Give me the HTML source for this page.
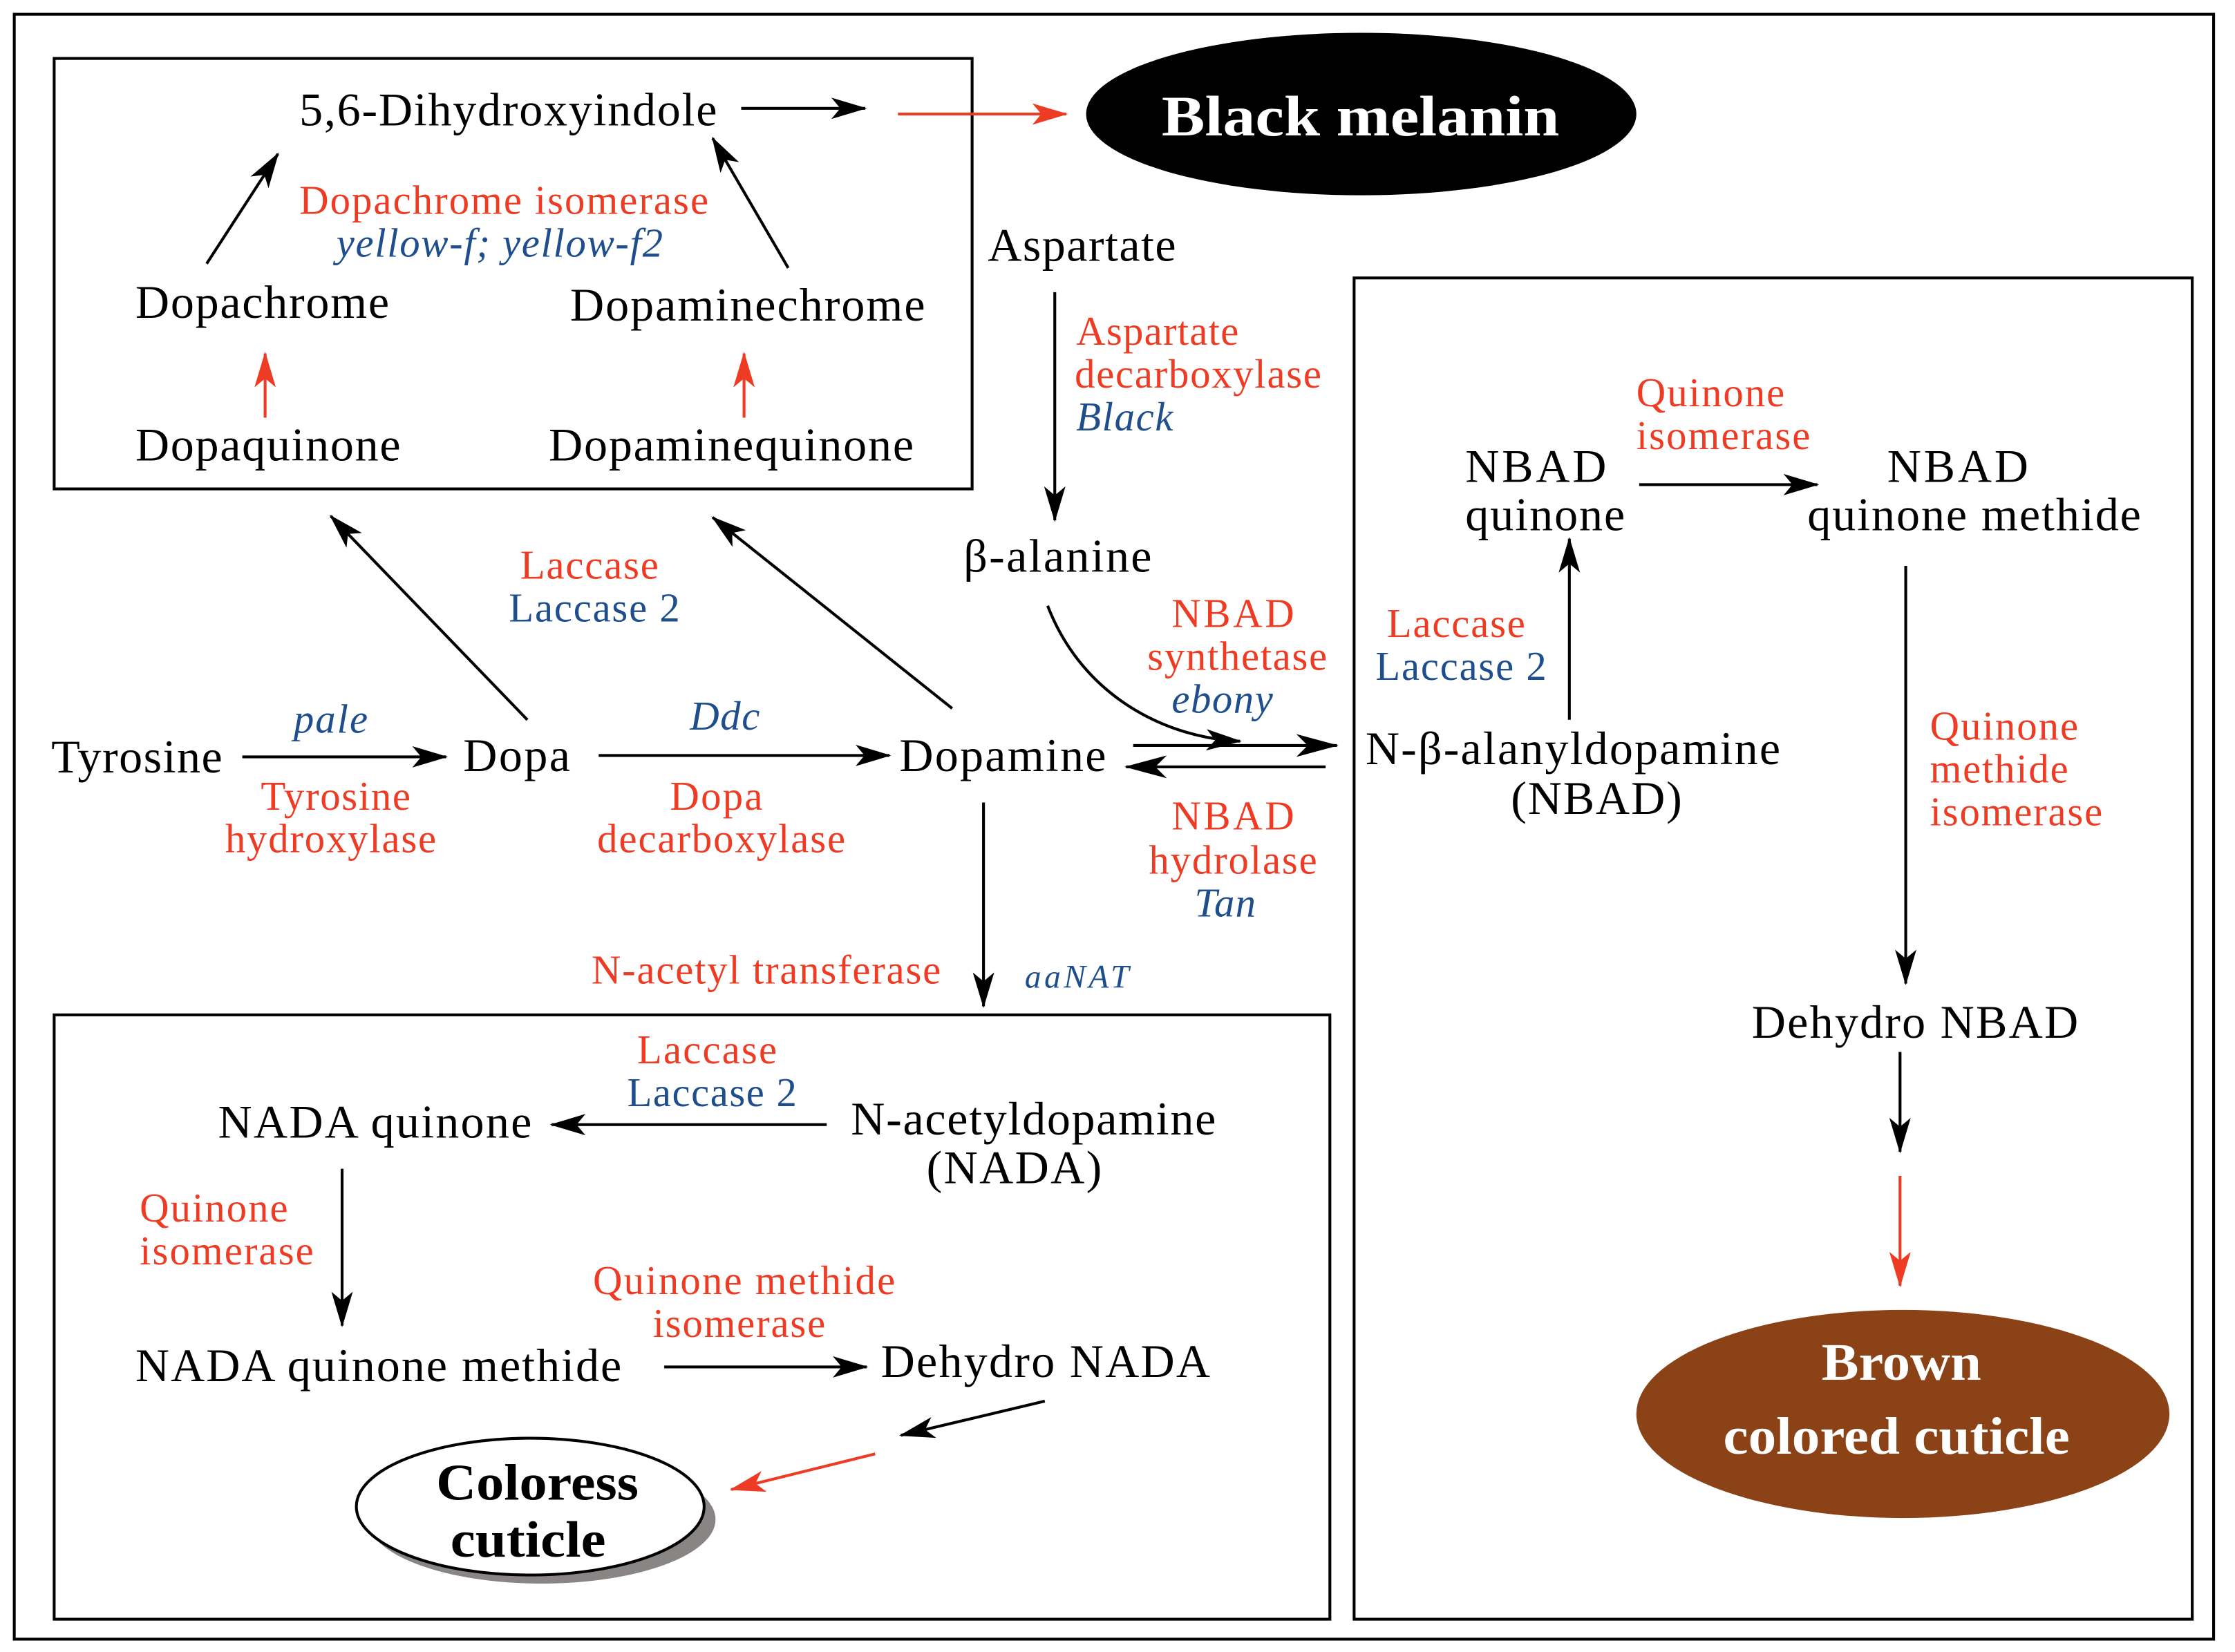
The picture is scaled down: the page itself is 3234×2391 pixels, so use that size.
<!DOCTYPE html>
<html><head><meta charset="utf-8"><style>html,body{margin:0;padding:0;background:#fff}svg{display:block}</style></head>
<body>
<svg width="3234" height="2391" viewBox="0 0 1568 1159" preserveAspectRatio="none" xmlns="http://www.w3.org/2000/svg" font-family="'Liberation Serif', serif">
<defs>
<marker id="ab" viewBox="0 0 20 12" refX="19" refY="6" markerWidth="26" markerHeight="15" markerUnits="userSpaceOnUse" orient="auto"><path d="M0,0 L20,6 L0,12 L5,6 Z" fill="#000"/></marker>
<marker id="ar" viewBox="0 0 20 12" refX="19" refY="6" markerWidth="26" markerHeight="15" markerUnits="userSpaceOnUse" orient="auto"><path d="M0,0 L20,6 L0,12 L5,6 Z" fill="#ee3b24"/></marker>
<marker id="abL" viewBox="0 0 26 14" refX="25" refY="7" markerWidth="30" markerHeight="16" markerUnits="userSpaceOnUse" orient="auto"><path d="M0,0 L26,7 L0,14 L7,7 Z" fill="#000"/></marker>
</defs>
<rect x="10" y="10" width="1543" height="1140" fill="none" stroke="#000" stroke-width="2"/>
<rect x="38" y="41" width="644" height="302" fill="none" stroke="#000" stroke-width="2"/>
<rect x="38" y="712" width="895" height="424" fill="none" stroke="#000" stroke-width="2"/>
<rect x="950" y="195" width="588" height="941" fill="none" stroke="#000" stroke-width="2"/>

<g stroke="#000" stroke-width="2" fill="none">
<line x1="520" y1="76" x2="607" y2="76" marker-end="url(#ab)"/>
<line x1="145" y1="185" x2="195" y2="108" marker-end="url(#ab)"/>
<line x1="553" y1="188" x2="500" y2="97" marker-end="url(#ab)"/>
<line x1="740" y1="205" x2="740" y2="365" marker-end="url(#ab)"/>
<path d="M735,425 C760,490 820,518 870,520" marker-end="url(#ab)"/>
<line x1="370" y1="505" x2="232" y2="362" marker-end="url(#ab)"/>
<line x1="668" y1="497" x2="500" y2="363" marker-end="url(#ab)"/>
<line x1="170" y1="531" x2="313" y2="531" marker-end="url(#ab)"/>
<line x1="420" y1="530" x2="624" y2="530" marker-end="url(#ab)"/>
<line x1="795" y1="523" x2="938" y2="523" marker-end="url(#abL)"/>
<line x1="930" y1="538" x2="790" y2="538" marker-end="url(#abL)"/>
<line x1="1101" y1="505" x2="1101" y2="378" marker-end="url(#ab)"/>
<line x1="1150" y1="340" x2="1275" y2="340" marker-end="url(#ab)"/>
<line x1="1337" y1="397" x2="1337" y2="690" marker-end="url(#ab)"/>
<line x1="1333" y1="738" x2="1333" y2="808" marker-end="url(#ab)"/>
<line x1="690" y1="563" x2="690" y2="706" marker-end="url(#ab)"/>
<line x1="580" y1="789" x2="387" y2="789" marker-end="url(#ab)"/>
<line x1="240" y1="820" x2="240" y2="930" marker-end="url(#ab)"/>
<line x1="466" y1="959" x2="608" y2="959" marker-end="url(#ab)"/>
<line x1="733" y1="983" x2="632" y2="1007" marker-end="url(#ab)"/>
</g>
<g stroke="#ee3b24" stroke-width="2" fill="none">
<line x1="630" y1="80" x2="748" y2="80" marker-end="url(#ar)"/>
<line x1="186" y1="293" x2="186" y2="248" marker-end="url(#ar)"/>
<line x1="522" y1="293" x2="522" y2="248" marker-end="url(#ar)"/>
<line x1="1333" y1="825" x2="1333" y2="902" marker-end="url(#ar)"/>
<line x1="614" y1="1020" x2="513" y2="1045" marker-end="url(#ar)"/>
</g>

<ellipse cx="955" cy="80" rx="193" ry="57" fill="#000"/>
<text x="815" y="95" fill="#fff" font-size="40" font-weight="bold" textLength="279" lengthAdjust="spacingAndGlyphs">Black melanin</text>
<ellipse cx="1335" cy="992" rx="187" ry="73" fill="#8a4216"/>
<text x="1278" y="968" fill="#fff" font-size="37" font-weight="bold" textLength="112" lengthAdjust="spacingAndGlyphs">Brown</text>
<text x="1209" y="1020" fill="#fff" font-size="37" font-weight="bold" textLength="243" lengthAdjust="spacingAndGlyphs">colored cuticle</text>
<ellipse cx="380" cy="1066" rx="122" ry="45" fill="#8a8585"/>
<ellipse cx="372" cy="1057" rx="122" ry="48" fill="#fff" stroke="#000" stroke-width="2"/>
<text x="306" y="1052" font-size="36" font-weight="bold" textLength="142" lengthAdjust="spacingAndGlyphs">Coloress</text>
<text x="316" y="1092" font-size="36" font-weight="bold" textLength="109" lengthAdjust="spacingAndGlyphs">cuticle</text>

<g font-size="33" fill="#000" lengthAdjust="spacingAndGlyphs">
<text x="210" y="88" textLength="293">5,6-Dihydroxyindole</text>
<text x="95" y="223" textLength="178">Dopachrome</text>
<text x="400" y="225" textLength="249">Dopaminechrome</text>
<text x="95" y="323" textLength="186">Dopaquinone</text>
<text x="385" y="323" textLength="256">Dopaminequinone</text>
<text x="693" y="183" textLength="132">Aspartate</text>
<text x="676" y="401" textLength="132">β-alanine</text>
<text x="36" y="542" textLength="120">Tyrosine</text>
<text x="325" y="541" textLength="75">Dopa</text>
<text x="631" y="541" textLength="145">Dopamine</text>
<text x="958" y="536" textLength="291">N-β-alanyldopamine</text>
<text x="1060" y="571" textLength="120">(NBAD)</text>
<text x="1028" y="338" textLength="99">NBAD</text>
<text x="1028" y="372" textLength="112">quinone</text>
<text x="1324" y="338" textLength="99">NBAD</text>
<text x="1268" y="372" textLength="234">quinone methide</text>
<text x="1229" y="728" textLength="229">Dehydro NBAD</text>
<text x="153" y="798" textLength="220">NADA quinone</text>
<text x="597" y="796" textLength="256">N-acetyldopamine</text>
<text x="650" y="830" textLength="123">(NADA)</text>
<text x="95" y="969" textLength="341">NADA quinone methide</text>
<text x="618" y="966" textLength="231">Dehydro NADA</text>
</g>
<g font-size="28.5" fill="#ee3b24" lengthAdjust="spacingAndGlyphs">
<text x="210" y="150" textLength="287">Dopachrome isomerase</text>
<text x="755" y="242" textLength="114">Aspartate</text>
<text x="754" y="272" textLength="173">decarboxylase</text>
<text x="822" y="440" textLength="86">NBAD</text>
<text x="805" y="470" textLength="126">synthetase</text>
<text x="365" y="406" textLength="97">Laccase</text>
<text x="183" y="568" textLength="105">Tyrosine</text>
<text x="158" y="598" textLength="148">hydroxylase</text>
<text x="470" y="568" textLength="65">Dopa</text>
<text x="419" y="598" textLength="174">decarboxylase</text>
<text x="822" y="582" textLength="86">NBAD</text>
<text x="806" y="613" textLength="118">hydrolase</text>
<text x="973" y="447" textLength="97">Laccase</text>
<text x="1148" y="285" textLength="104">Quinone</text>
<text x="1148" y="315" textLength="122">isomerase</text>
<text x="1354" y="519" textLength="104">Quinone</text>
<text x="1354" y="549" textLength="97">methide</text>
<text x="1354" y="579" textLength="121">isomerase</text>
<text x="415" y="690" textLength="245">N-acetyl transferase</text>
<text x="447" y="746" textLength="98">Laccase</text>
<text x="98" y="857" textLength="104">Quinone</text>
<text x="98" y="887" textLength="122">isomerase</text>
<text x="416" y="908" textLength="212">Quinone methide</text>
<text x="458" y="938" textLength="121">isomerase</text>
</g>
<g font-size="28.5" fill="#1f4e8c" lengthAdjust="spacingAndGlyphs">
<text x="236" y="180" font-style="italic" textLength="229">yellow-f; yellow-f2</text>
<text x="755" y="302" font-style="italic" textLength="68">Black</text>
<text x="822" y="500" font-style="italic" textLength="71">ebony</text>
<text x="357" y="436" textLength="120">Laccase 2</text>
<text x="206" y="514" font-style="italic" textLength="52">pale</text>
<text x="484" y="512" font-style="italic" textLength="49">Ddc</text>
<text x="838" y="643" font-style="italic" textLength="43">Tan</text>
<text x="965" y="477" textLength="120">Laccase 2</text>
<text x="440" y="776" textLength="119">Laccase 2</text>
<text x="719" y="693" font-style="italic" font-size="23" textLength="73">aaNAT</text>
</g>
</svg>
</body></html>
